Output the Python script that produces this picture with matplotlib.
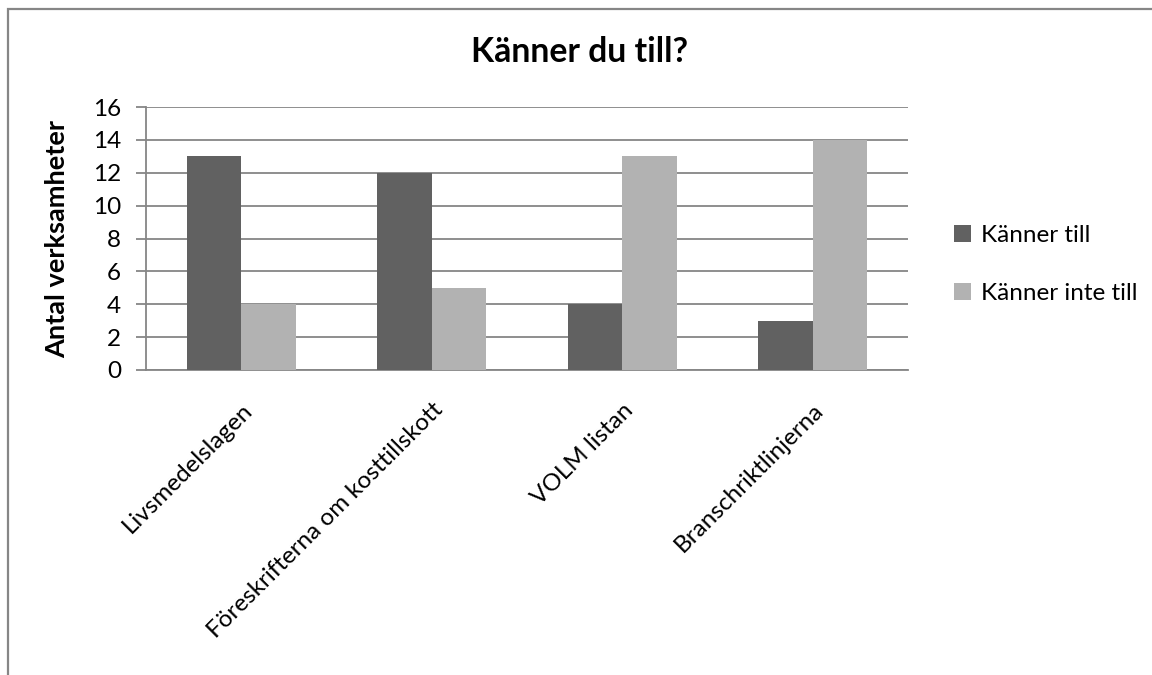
import numpy as np
import matplotlib
matplotlib.use("Agg")
import matplotlib.pyplot as plt
from matplotlib.patches import Rectangle

categories = ["Livsmedelslagen", "Föreskrifterna om kosttillskott", "VOLM listan", "Branschriktlinjerna"]
known = [13, 12, 4, 3]
not_known = [4, 5, 13, 14]
series_names = ["Känner till", "Känner inte till"]
yticks = [0, 2, 4, 6, 8, 10, 12, 14, 16]

plt.rcParams['font.family'] = ['Lato', 'DejaVu Sans']

dark = '#616161'
light = '#b2b2b2'
grid = '#868686'

fig = plt.figure(figsize=(11.52, 6.75), dpi=100)
ax = fig.add_axes([146/1152, 1-370/675, 762/1152, 263/675])

x = np.arange(len(categories))
w = 1/3.5
b1 = ax.bar(x - w/2, known, w, color=dark, label=series_names[0], zorder=3)
b2 = ax.bar(x + w/2, not_known, w, color=light, label=series_names[1], zorder=3)

ax.set_xlim(-0.5, len(categories) - 0.5)
ax.set_ylim(0, 16)
ax.set_yticks(yticks)
ax.yaxis.grid(True, color=grid, lw=1.3, zorder=0)
ax.set_axisbelow(True)
for s in ['top', 'right']:
    ax.spines[s].set_visible(False)
for s in ['left', 'bottom']:
    ax.spines[s].set_color(grid)
    ax.spines[s].set_linewidth(1.3)
ax.tick_params(axis='y', length=7, width=1.3, color=grid, labelsize=17.5, pad=11)
ax.tick_params(axis='x', length=0, labelsize=17.5, pad=21)
ax.set_xticks(x)
ax.set_xticklabels(categories, rotation=45, ha='right', rotation_mode='anchor')

fig.text(57/1152, 1-239/675, "Antal verksamheter", rotation=90, ha='center', va='center',
         fontsize=19.5, fontweight='bold')
fig.text(0.503, 0.923, "Känner du till?", ha='center', va='center', fontsize=24.3, fontweight='bold')

fig.legend(handles=[b1, b2], loc='center left', bbox_to_anchor=(0.809, 0.608), frameon=False,
           fontsize=17.5, handlelength=0.7, handleheight=0.7, handletextpad=0.4, labelspacing=1.55)

fig.add_artist(Rectangle((8/1152, -0.05), 1.1, 1 - 8.5/675 + 0.05, transform=fig.transFigure,
                         fill=False, edgecolor=grid, lw=1.6))

fig.savefig("out.png", dpi=100, facecolor='white')
